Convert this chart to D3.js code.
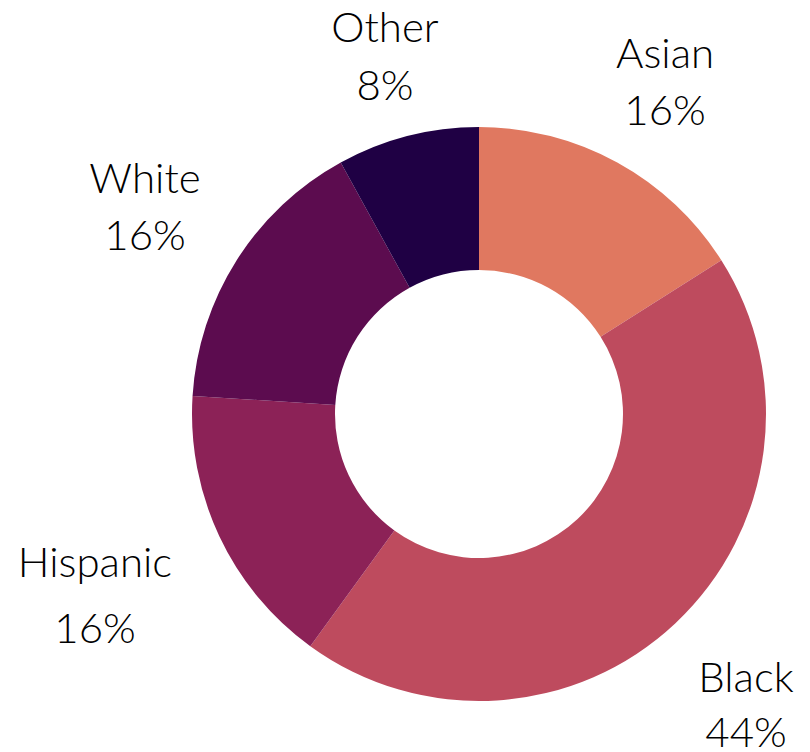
<!DOCTYPE html>
<html>
<head>
<meta charset="utf-8">
<script src="https://cdn.jsdelivr.net/npm/d3@7"></script>
<style>
  body { margin: 0; background: #fff; }
  text { font-family: "Lato", "Open Sans", sans-serif; font-weight: 300; fill: #000; }
</style>
</head>
<body>
<div id="chart"></div>
<script>
const categories = ["Asian", "Black", "Hispanic", "White", "Other"];
const values = [16, 44, 16, 16, 8];
const colors = ["#E07860", "#BE4B5E", "#8C2257", "#5C0C4F", "#1F0044"];

// label anchor points (layout only)
const labelPos = [
  { x: 665, y: 68, gap: 57 },
  { x: 746, y: 692, gap: 55 },
  { x: 95, y: 577, gap: 66 },
  { x: 145, y: 193, gap: 57 },
  { x: 385, y: 42, gap: 58 }
];

const width = 810, height = 752;
const cx = 479, cy = 414, outerR = 287, innerR = 144;

const svg = d3.select("#chart").append("svg")
  .attr("width", width)
  .attr("height", height);

const pie = d3.pie().sort(null).value(d => d);
const arc = d3.arc().innerRadius(innerR).outerRadius(outerR);

svg.append("g")
  .attr("transform", `translate(${cx}, ${cy})`)
  .selectAll("path")
  .data(pie(values))
  .enter()
  .append("path")
  .attr("d", arc)
  .attr("fill", (d, i) => colors[i]);

// labels
const labels = svg.selectAll(".label")
  .data(categories)
  .enter()
  .append("g")
  .attr("class", "label");

labels.append("text")
  .attr("x", (d, i) => labelPos[i].x)
  .attr("y", (d, i) => labelPos[i].y)
  .attr("text-anchor", "middle")
  .style("font-size", "42px")
  .text(d => d);

labels.append("text")
  .attr("x", (d, i) => labelPos[i].x)
  .attr("y", (d, i) => labelPos[i].y + labelPos[i].gap)
  .attr("text-anchor", "middle")
  .style("font-size", "42px")
  .text((d, i) => values[i] + "%");
</script>
</body>
</html>
